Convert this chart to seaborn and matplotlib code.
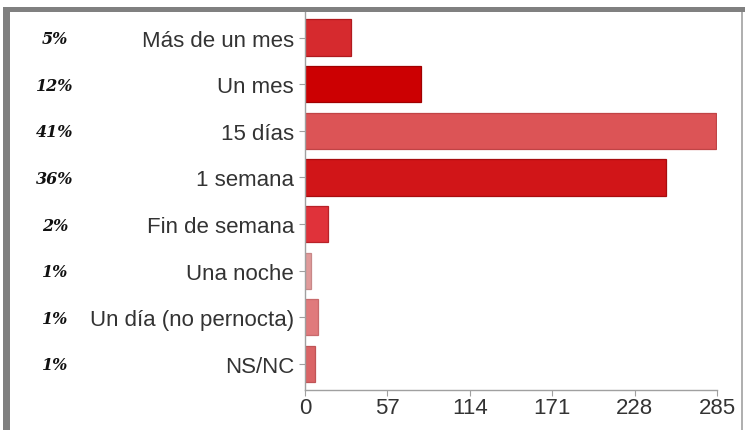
import matplotlib
matplotlib.use("Agg")
import matplotlib.pyplot as plt
from matplotlib.patches import Rectangle
import seaborn as sns
import pandas as pd

# Duración de la estancia: número de respuestas por categoría
categorias = ["Más de un mes", "Un mes", "15 días", "1 semana",
              "Fin de semana", "Una noche", "Un día (no pernocta)", "NS/NC"]
respuestas = [32, 80, 284, 250, 16, 4, 9, 7]
porcentajes = ["5%", "12%", "41%", "36%", "2%", "1%", "1%", "1%"]
ticks_x = [0, 57, 114, 171, 228, 285]

colores = ["#d62a2e", "#cc0002", "#dc5456", "#d11518",
           "#e0323a", "#e09a9a", "#e07a7c", "#da6466"]
bordes = ["#b01a1e", "#a00000", "#c04446", "#a80c0e",
          "#b82228", "#c88888", "#c86a6c", "#c05456"]

df = pd.DataFrame({"categoria": categorias, "respuestas": respuestas})

sns.set_theme(style="white")
plt.rcParams["font.family"] = ["Liberation Sans", "DejaVu Sans"]

W, H = 745, 431
fig = plt.figure(figsize=(W / 100, H / 100), dpi=100)
fig.patch.set_facecolor("white")

# axes placed in pixel units
left, right, top, bottom = 305, 717, 13, 391
ax = fig.add_axes([left / W, 1 - bottom / H, (right - left) / W, (bottom - top) / H])

sns.barplot(data=df, x="respuestas", y="categoria", hue="categoria",
            palette=dict(zip(categorias, colores)), legend=False,
            saturation=1, width=0.78, linewidth=0.9, ax=ax, orient="h")
for patch, ec in zip(ax.patches, bordes):
    patch.set_edgecolor(ec)

ax.set_xlim(0, 285)
ax.set_ylim(7.56, -0.55)
ax.set_xticks(ticks_x)
ax.set_xticklabels([str(t) for t in ticks_x])
ax.set_xlabel("")
ax.set_ylabel("")

for side in ("top", "right"):
    ax.spines[side].set_visible(False)
for side in ("left", "bottom"):
    ax.spines[side].set_color("#a0a0a0")
    ax.spines[side].set_linewidth(1.0)

ax.tick_params(axis="y", which="major", left=True, length=4, width=0.8,
               color="#a0a0a0", pad=4, labelsize=16, labelcolor="#333333")
ax.tick_params(axis="x", which="major", bottom=True, length=4, width=0.8,
               color="#a0a0a0", pad=1, labelsize=16, labelcolor="#333333")

# porcentajes a la izquierda de cada categoría
for i, p in enumerate(porcentajes):
    y_px = top + (i + 0.55) * (bottom - top) / 8.11 + 1
    fig.text(55 / W, 1 - y_px / H, p, ha="center", va="center",
             fontsize=11.5, fontweight="bold", fontstyle="italic",
             family=["DejaVu Serif"], color="#111111")

# marco gris alrededor del gráfico
fig.patches.append(Rectangle((3 / W, 1 - 13 / H), (W - 3) / W, 5 / H,
                             transform=fig.transFigure, facecolor="#808080",
                             edgecolor="none"))
fig.patches.append(Rectangle((3 / W, 0), 7 / W, 1 - 8 / H,
                             transform=fig.transFigure, facecolor="#808080",
                             edgecolor="none"))
fig.patches.append(Rectangle((741 / W, 0), 2 / W, 1 - 13 / H,
                             transform=fig.transFigure, facecolor="#b0b0b0",
                             edgecolor="none"))

fig.savefig("out.png", dpi=100, facecolor="white")
